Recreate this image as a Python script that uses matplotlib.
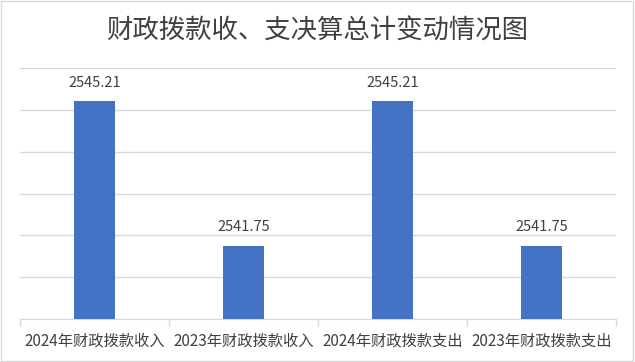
import matplotlib.pyplot as plt
from matplotlib.patches import Rectangle

plt.rcParams['font.family'] = ['Noto Sans CJK SC', 'DejaVu Sans']

categories = ["2024年财政拨款收入", "2023年财政拨款收入", "2024年财政拨款支出", "2023年财政拨款支出"]
values = [2545.21, 2541.75, 2545.21, 2541.75]

fig = plt.figure(figsize=(6.35, 3.62), dpi=100)
ax = fig.add_axes([20 / 635, 1 - 319 / 362, 596 / 635, 251 / 362])

x = range(len(categories))
ax.bar(x, values, width=0.28, color="#4472C4", zorder=3)
for i, v in zip(x, values):
    ax.text(i, v + 0.27, f"{v:.2f}", ha="center", va="bottom", fontsize=10.5, color="#404040")

ax.set_xlim(-0.5, len(categories) - 0.5)
ax.set_ylim(2540, 2546)
ax.set_yticks(range(2540, 2547))
ax.yaxis.grid(True, color="#D9D9D9", linewidth=1, zorder=0)
ax.tick_params(axis="y", left=False, labelleft=False)
ax.set_xticks(list(x))
ax.set_xticklabels(categories, fontsize=11, color="#404040")
ax.tick_params(axis="x", length=0, pad=10)
# category separators
ax.set_xticks([i - 0.5 for i in range(len(categories) + 1)], minor=True)
ax.tick_params(axis="x", which="minor", length=5, color="#D9D9D9", width=1)
for s in ["top", "right", "left"]:
    ax.spines[s].set_visible(False)
ax.spines["bottom"].set_color("#D9D9D9")

fig.text(0.5, 1 - 31 / 362, "财政拨款收、支决算总计变动情况图", ha="center", va="center",
         fontsize=19, fontweight="medium", color="#404040")
fig.patches.append(Rectangle((0.002, 0.003), 0.995, 0.993, transform=fig.transFigure,
                             fill=False, edgecolor="#D9D9D9", linewidth=1))

plt.savefig("out.png", dpi=100)
